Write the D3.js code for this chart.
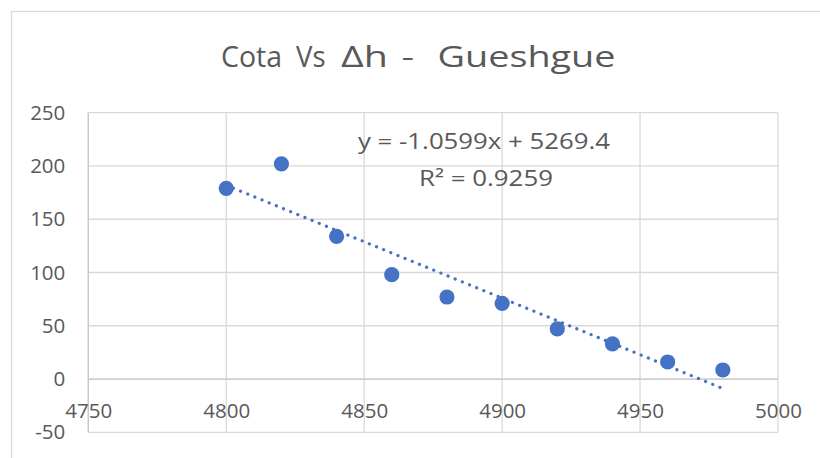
<!DOCTYPE html>
<html>
<head>
<meta charset="utf-8">
<script src="https://cdn.jsdelivr.net/npm/d3@7"></script>
<style>
  html, body { margin: 0; padding: 0; background: #fff; }
  svg { display: block; }
  text { font-family: "Open Sans", "Noto Sans", sans-serif; fill: #595959; }
</style>
</head>
<body>
<script>
// ---- data ----
const cota = [4800, 4820, 4840, 4860, 4880, 4900, 4920, 4940, 4960, 4980];
const deltaH = [179, 202, 134, 98, 77, 71, 47, 33, 16, 8.5];
const xTicks = [4750, 4800, 4850, 4900, 4950, 5000];
const yTicks = [-50, 0, 50, 100, 150, 200, 250];
const trendSlope = -1.0599;
const trendIntercept = 5269.4;
const titleWords = ["Cota", "Vs", "\u0394h", "-", "Gueshgue"];
const eqText = "y = -1.0599x + 5269.4";
const r2Text = "R\u00B2 = 0.9259";

// ---- layout ----
const W = 820, H = 458;
const plot = { left: 88.3, right: 778, top: 112.7, bottom: 432.3 };
const blue = "#4472C4";

const svg = d3.select("body").append("svg").attr("width", W).attr("height", H);

// chart border
svg.append("rect")
  .attr("x", 11.5).attr("y", 11.5)
  .attr("width", W + 20).attr("height", H + 20)
  .attr("fill", "#fff").attr("stroke", "#d9d9d9").attr("stroke-width", 1.3);

const x = d3.scaleLinear().domain([4750, 5000]).range([plot.left, plot.right]);
const y = d3.scaleLinear().domain([-50, 250]).range([plot.bottom, plot.top]);

// gridlines
const grid = svg.append("g").attr("stroke", "#d9d9d9").attr("stroke-width", 1.3);
grid.selectAll("line.h").data(yTicks).join("line").attr("class", "h")
  .attr("x1", plot.left).attr("x2", plot.right)
  .attr("y1", d => y(d)).attr("y2", d => y(d));
grid.selectAll("line.v").data(xTicks).join("line").attr("class", "v")
  .attr("y1", plot.top).attr("y2", plot.bottom)
  .attr("x1", d => x(d)).attr("x2", d => x(d));

// axis lines
svg.append("line").attr("x1", plot.left).attr("x2", plot.right)
  .attr("y1", y(0)).attr("y2", y(0)).attr("stroke", "#c8c8c8").attr("stroke-width", 1.3);
svg.append("line").attr("x1", x(4750)).attr("x2", x(4750))
  .attr("y1", plot.top).attr("y2", plot.bottom).attr("stroke", "#c8c8c8").attr("stroke-width", 1.3);

const fmt = d => String(d);

// y axis labels
const yAxis = svg.append("g").attr("transform", `translate(${plot.left},0)`)
  .call(d3.axisLeft(y).tickValues(yTicks).tickSize(0).tickPadding(23).tickFormat(fmt));
yAxis.select(".domain").remove();
yAxis.selectAll("text").attr("font-size", 20.5).attr("fill", "#595959")
  .attr("font-family", "'Open Sans', sans-serif");

// x axis labels (next to axis at y = 0)
const xAxis = svg.append("g").attr("transform", `translate(0,${y(0)})`)
  .call(d3.axisBottom(x).tickValues(xTicks).tickSize(0).tickPadding(24).tickFormat(fmt));
xAxis.select(".domain").remove();
xAxis.selectAll("text").attr("font-size", 20.5).attr("fill", "#595959")
  .attr("font-family", "'Open Sans', sans-serif");

// markers
const pts = cota.map((c, i) => ({ x: c, y: deltaH[i] }));
svg.append("g").selectAll("circle").data(pts).join("circle")
  .attr("cx", d => x(d.x)).attr("cy", d => y(d.y)).attr("r", 7.6)
  .attr("fill", blue);

// trendline (dotted)
const x0 = d3.min(cota), x1 = d3.max(cota);
const line = d3.line().x(d => x(d[0])).y(d => y(d[1]));
svg.append("path")
  .attr("d", line([[x0, trendSlope * x0 + trendIntercept], [x1, trendSlope * x1 + trendIntercept]]))
  .attr("fill", "none").attr("stroke", blue).attr("stroke-width", 3.2)
  .attr("stroke-linecap", "round").attr("stroke-dasharray", "0.1 7.63")
  .attr("stroke-dashoffset", -7.7);

// title (word runs, matched to the reference's spacing)
const titleRuns = [
  { x: 221, w: 61 }, { x: 296, w: 29.5 }, { x: 341, w: 47 }, { x: 401.5, w: 12.5 }, { x: 437.5, w: 178 }
];
const title = svg.append("text").attr("y", 66.5).attr("font-size", 30);
titleWords.forEach((wd, i) => {
  title.append("tspan").attr("x", titleRuns[i].x).attr("textLength", titleRuns[i].w)
    .attr("lengthAdjust", "spacingAndGlyphs").text(wd);
});

// trendline label
svg.append("text").attr("x", 358).attr("y", 149)
  .attr("font-size", 22).attr("textLength", 252).attr("lengthAdjust", "spacingAndGlyphs").text(eqText);
svg.append("text").attr("x", 419).attr("y", 185.5)
  .attr("font-size", 22).attr("textLength", 134).attr("lengthAdjust", "spacingAndGlyphs").text(r2Text);
</script>
</body>
</html>
